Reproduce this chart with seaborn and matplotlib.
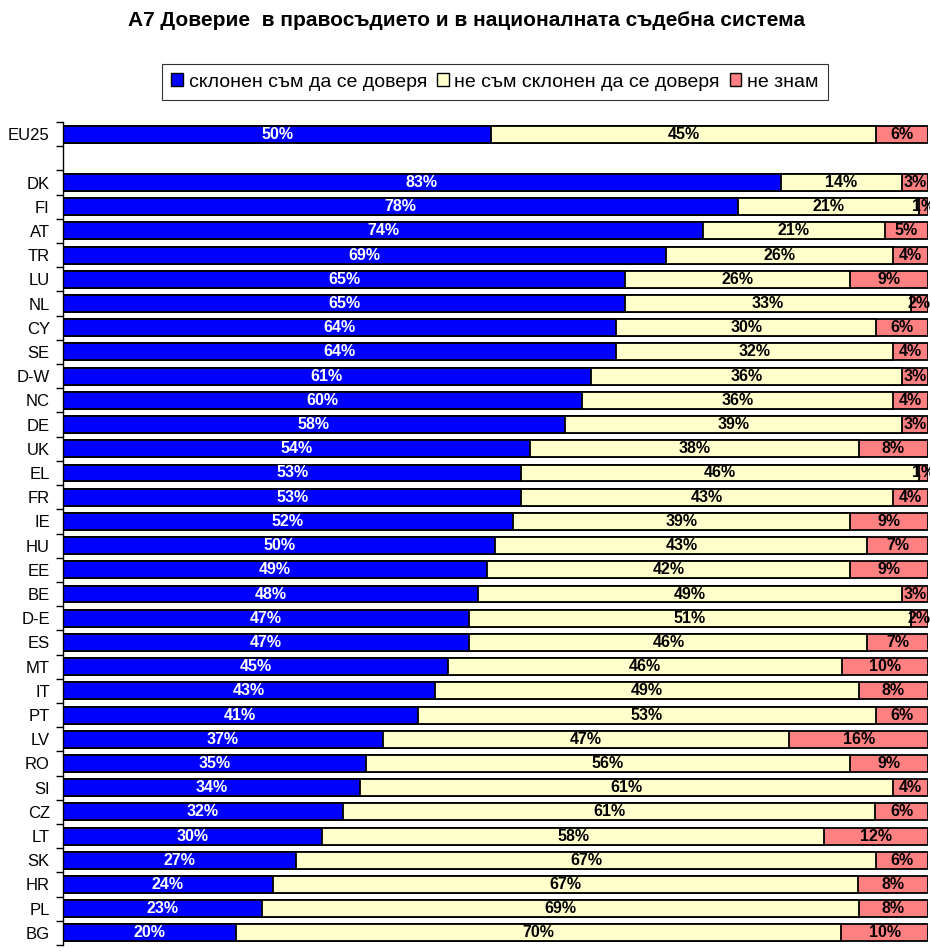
import numpy as np
import pandas as pd
import matplotlib
matplotlib.use("Agg")
import matplotlib.pyplot as plt
from matplotlib.patches import Patch
import seaborn as sns

# Countries in the order they appear (empty string = gap row)
countries = ["EU25", "", "DK", "FI", "AT", "TR", "LU", "NL", "CY", "SE", "D-W", "NC",
             "DE", "UK", "EL", "FR", "IE", "HU", "EE", "BE", "D-E", "ES", "MT", "IT",
             "PT", "LV", "RO", "SI", "CZ", "LT", "SK", "HR", "PL", "BG"]
trust = [50, np.nan, 83, 78, 74, 69, 65, 65, 64, 64, 61, 60, 58, 54, 53, 53, 52, 50, 49, 48,
         47, 47, 45, 43, 41, 37, 35, 34, 32, 30, 27, 24, 23, 20]
distrust = [45, np.nan, 14, 21, 21, 26, 26, 33, 30, 32, 36, 36, 39, 38, 46, 43, 39, 43, 42, 49,
            51, 46, 46, 49, 53, 47, 56, 61, 61, 58, 67, 67, 69, 70]
dont_know = [6, np.nan, 3, 1, 5, 4, 9, 2, 6, 4, 3, 4, 3, 8, 1, 4, 9, 7, 9, 3,
             2, 7, 10, 8, 6, 16, 9, 4, 6, 12, 6, 8, 8, 10]

series_names = ["склонен съм да се доверя", "не съм склонен да се доверя", "не знам"]
colors = ["#0000FF", "#FFFFCC", "#FF8080"]
title = "А7 Доверие  в правосъдието и в националната съдебна система"

df = pd.DataFrame({"country": countries, "trust": trust,
                   "distrust": distrust, "dk": dont_know})
total = df[["trust", "distrust", "dk"]].sum(axis=1)
# Excel-style 100% stacked bars
df["p1"] = df["trust"] / total * 100
df["p2"] = (df["trust"] + df["distrust"]) / total * 100
df["p3"] = 100.0
df.loc[df["country"] == "", ["p1", "p2", "p3"]] = np.nan
plot_df = df.dropna(subset=["p1"])

sns.set_style("white")
plt.rcParams["font.family"] = ["Liberation Sans", "DejaVu Sans"]
plt.rcParams["text.color"] = "black"
plt.rcParams["ytick.color"] = "black"
plt.rcParams["ytick.labelcolor"] = "black"

fig = plt.figure(figsize=(9.3, 9.51), dpi=100)
ax = fig.add_axes([0.0677, 0.0063, 0.930, 0.8654])

# draw cumulative layers, largest first, so each segment shows
for col, c in zip(["p3", "p2", "p1"], colors[::-1]):
    sns.barplot(data=plot_df, x=col, y="country", order=countries, orient="h",
                color=c, width=0.7, edgecolor="black", linewidth=1.3,
                saturation=1, ax=ax)

# value labels
for i, row in df.iterrows():
    if row["country"] == "":
        continue
    starts = [0, row["p1"], row["p2"]]
    ends = [row["p1"], row["p2"], 100]
    vals = [row["trust"], row["distrust"], row["dk"]]
    for k in range(3):
        ax.text((starts[k] + ends[k]) / 2, i, f"{int(vals[k])}%",
                ha="center", va="center", fontsize=11.5, fontweight="bold",
                color="white" if k == 0 else "black")

ax.set_xlim(0, 100)
ax.set_ylim(len(countries) - 0.5, -0.5)
ax.set_xlabel("")
ax.set_ylabel("")
ax.set_xticks([])
sns.despine(ax=ax, top=True, right=True, bottom=True, left=False)
ax.spines["left"].set_color("black")
ax.spines["left"].set_linewidth(1.0)

ax.set_yticks(range(len(countries)))
ax.set_yticklabels(countries, fontsize=12, color="black")
ax.set_yticks(np.arange(-0.5, len(countries), 1), minor=True)
ax.tick_params(axis="y", which="major", length=0, pad=9.5)
ax.tick_params(axis="y", which="minor", length=5, width=1, color="black", left=True)

fig.text(466 / 930, 1 - 20 / 951, title, ha="center", va="center",
         fontsize=15, fontweight="bold", color="black")

handles = [Patch(facecolor=c, edgecolor="black", linewidth=1) for c in colors]
leg = fig.legend(handles, series_names, loc="center", bbox_to_anchor=(495 / 930, 1 - 82 / 951),
                 ncol=3, frameon=True, fontsize=14, handlelength=0.6, handleheight=0.6,
                 handletextpad=0.3, columnspacing=0.5, borderpad=0.5, fancybox=False)
leg.get_frame().set_edgecolor("black")
leg.get_frame().set_linewidth(0.8)
for t in leg.get_texts():
    t.set_color("black")

fig.savefig("out.png", dpi=100, facecolor="white")
